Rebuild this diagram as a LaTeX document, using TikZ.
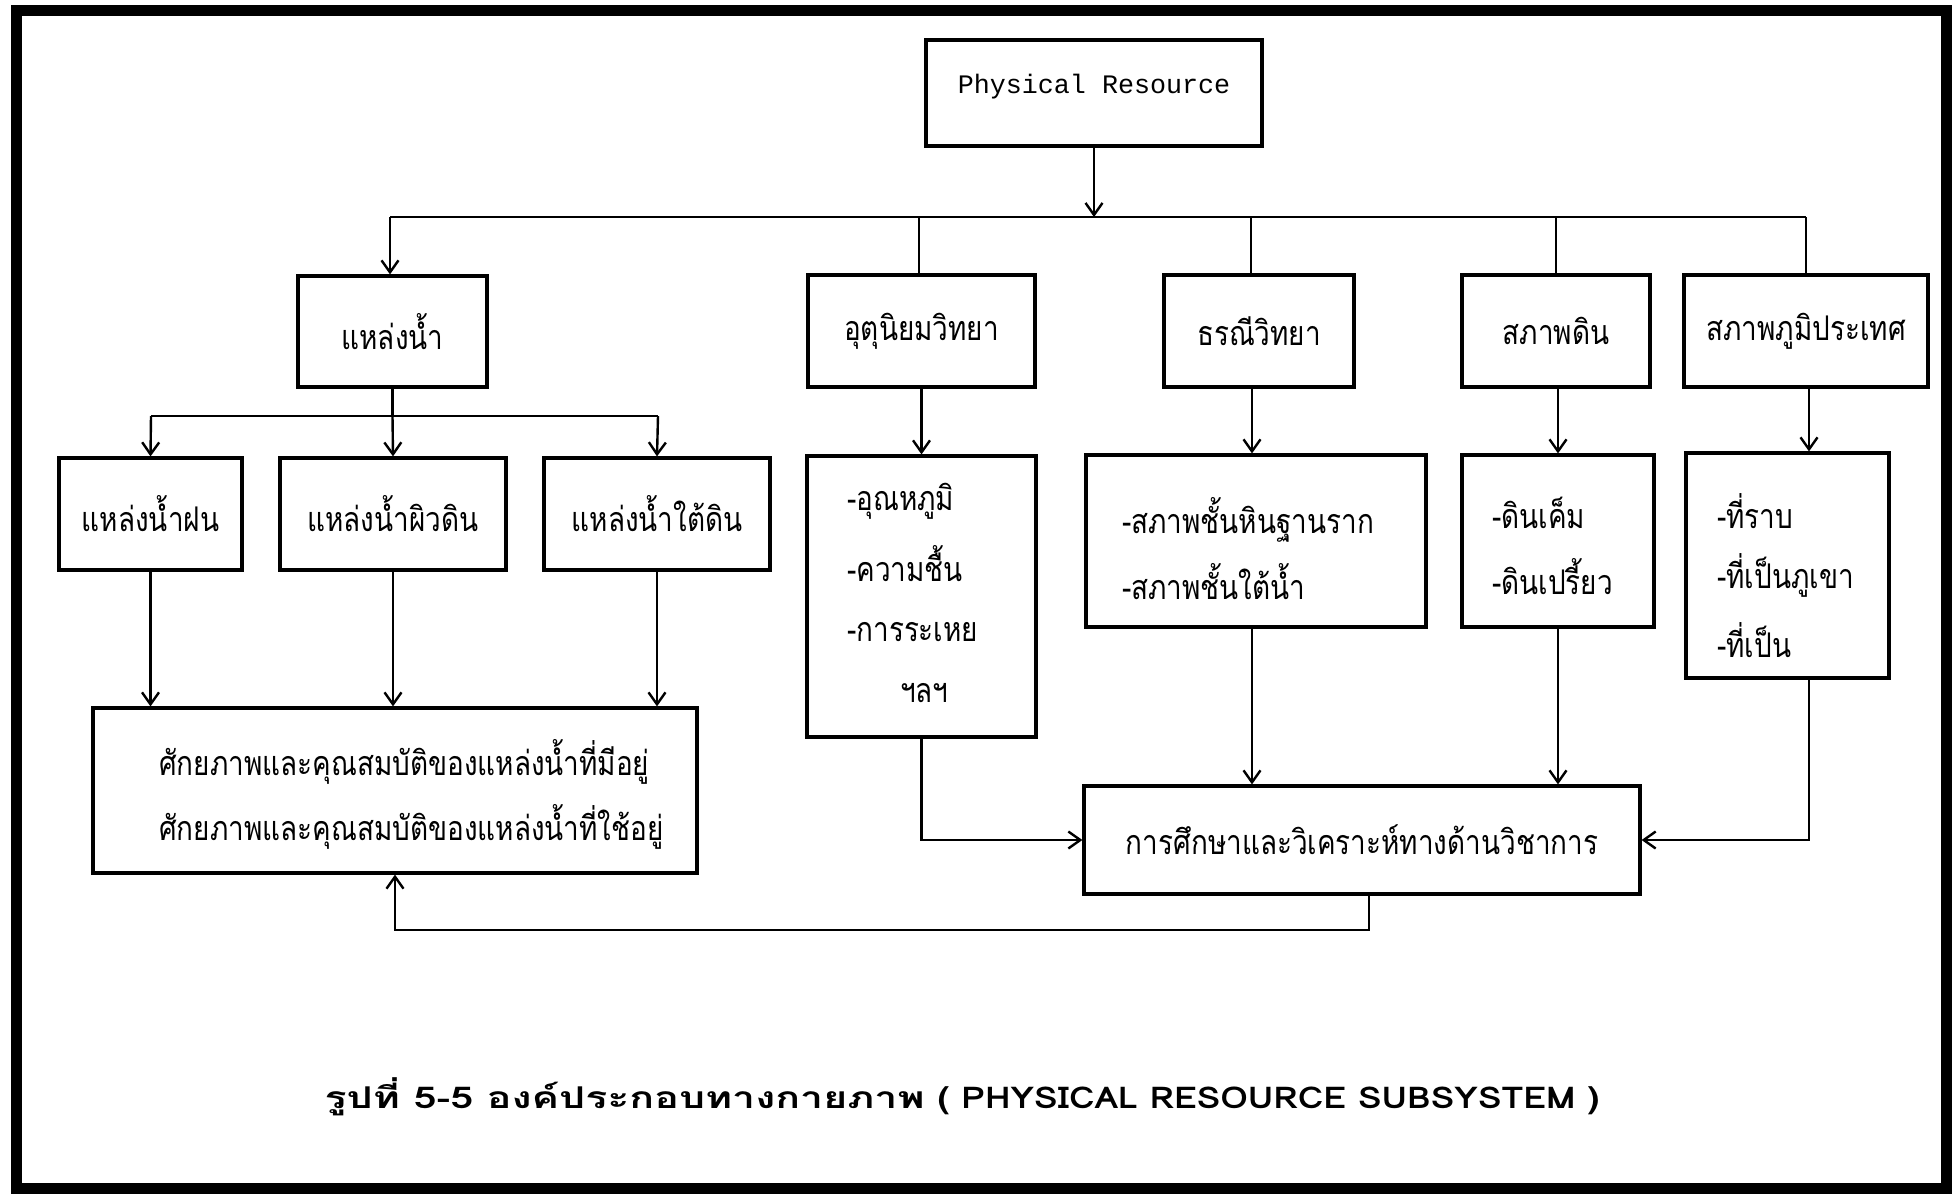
\documentclass[tikz,border=0pt]{standalone}
\usepackage{fontspec}
\setmainfont{Liberation Serif}
\newfontfamily\thai[Script=Thai,FakeStretch=0.82]{Loma}
\newfontfamily\capth[Script=Thai,FakeStretch=1.37]{Loma}
\newfontfamily\capla[FakeStretch=1.18]{Loma}
\newfontfamily\monofnt{Liberation Mono}
\usetikzlibrary{arrows.meta}
\begin{document}
\begin{tikzpicture}[x=1pt,y=-1pt,
  box/.style={draw, line width=3.2pt, inner sep=0pt},
  conn/.style={line width=2.4pt},
  arr/.style={conn, -{Straight Barb[length=12pt,width=17pt,line width=2.4pt]}},
  lbl/.style={font=\thai\fontsize{34}{36}\selectfont, inner sep=0pt},
]
\useasboundingbox (0,0) rectangle (1956,1195);
\draw[line width=11pt] (16,10) rectangle (1946,1188);

% boxes
\node[box, minimum width=336, minimum height=106] (top) at (1094,93) {};
\node[inner sep=0pt, font=\monofnt\fontsize{26.7}{28}\selectfont] (toplbl) at (1094,87) {Physical Resource};

\node[box, lbl, minimum width=189, minimum height=111] (water) at (392.5,331.5) {แหล่งน้ำ};
\node[box, lbl, minimum width=227, minimum height=112] (met) at (921.5,331) {อุตุนิยมวิทยา};
\node[box, lbl, minimum width=190, minimum height=112] (geo) at (1259,331) {ธรณีวิทยา};
\node[box, lbl, minimum width=188, minimum height=112] (soil) at (1556,331) {สภาพดิน};
\node[box, lbl, minimum width=244, minimum height=112] (topo) at (1806,331) {สภาพภูมิประเทศ};

\node[box, lbl, minimum width=183, minimum height=112] (rain) at (150.5,514) {แหล่งน้ำฝน};
\node[box, lbl, minimum width=226, minimum height=112] (surf) at (393,514) {แหล่งน้ำผิวดิน};
\node[box, lbl, minimum width=226, minimum height=112] (ground) at (657,514) {แหล่งน้ำใต้ดิน};

\node[box, minimum width=604, minimum height=165] (pot) at (395,790.5) {};
\node[lbl, anchor=west] (pot1) at (159,762) {ศักยภาพและคุณสมบัติของแหล่งน้ำที่มีอยู่};
\node[lbl, anchor=west] (pot2) at (159,827) {ศักยภาพและคุณสมบัติของแหล่งน้ำที่ใช้อยู่};

\node[box, minimum width=229, minimum height=281] (metsub) at (921.5,596.5) {};
\node[lbl, anchor=west] (m1) at (847,501) {-อุณหภูมิ};
\node[lbl, anchor=west] (m2) at (847,564) {-ความชื้น};
\node[lbl, anchor=west] (m3) at (847,632) {-การระเหย};
\node[lbl, anchor=west] (m4) at (900,693) {ฯลฯ};

\node[box, minimum width=340, minimum height=172] (geosub) at (1256,541) {};
\node[lbl, anchor=west] (g1) at (1122,520) {-สภาพชั้นหินฐานราก};
\node[lbl, anchor=west] (g2) at (1122,582) {-สภาพชั้นใต้น้ำ};

\node[box, minimum width=192, minimum height=172] (soilsub) at (1558,541) {};
\node[lbl, anchor=west] (s1) at (1492,513) {-ดินเค็ม};
\node[lbl, anchor=west] (s2) at (1492,577) {-ดินเปรี้ยว};

\node[box, minimum width=203, minimum height=225] (toposub) at (1787.5,565.5) {};
\node[lbl, anchor=west] (t1) at (1717,511) {-ที่ราบ};
\node[lbl, anchor=west] (t2) at (1717,575) {-ที่เป็นภูเขา};
\node[lbl, anchor=west] (t3) at (1717,640) {-ที่เป็น};

\node[box, lbl, minimum width=556, minimum height=108] (ana) at (1362,840) {การศึกษาและวิเคราะห์ทางด้านวิชาการ};

\node[inner sep=0pt, font=\bfseries\fontsize{30}{32}\selectfont] (cap) at (962,1097)
  {{\capth\bfseries รูปที่ 5-5 องค์ประกอบทางกายภาพ}\hspace{13pt}{\capla\bfseries ( PHYSICAL RESOURCE SUBSYSTEM )}};

% main bus
\coordinate (busL) at (390,217);
\coordinate (busR) at (1806,217);
\coordinate (dMet) at (919,217);
\coordinate (dGeo) at (1251,217);
\coordinate (dSoil) at (1556,217);
\draw[conn] (busL) -- (busR);
\draw[arr] (top.south) -- (top.south |- busL);
\draw[arr] (busL) -- (busL |- water.north);
\draw[conn] (dMet) -- (dMet |- met.north);
\draw[conn] (dGeo) -- (dGeo |- geo.north);
\draw[conn] (dSoil) -- (dSoil |- soil.north);
\draw[conn] (busR) -- (topo.north);

% water branch
\coordinate (sbL) at (151,416);
\coordinate (sbR) at (658,416);
\draw[conn] (water.south) -- (water.south |- sbL);
\draw[conn] (sbL) -- (sbR);
\draw[arr] (sbL) -- (rain.north);
\draw[arr] (water.south |- sbL) -- (surf.north);
\draw[arr] (sbR) -- (ground.north);
\draw[arr] (rain.south) -- (rain.south |- pot.north);
\draw[arr] (surf.south) -- (surf.south |- pot.north);
\draw[arr] (ground.south) -- (ground.south |- pot.north);

% other branches
\draw[arr] (met.south) -- (metsub.north);
\draw[arr] (metsub.south) |- (ana.west);
\draw[arr] ([xshift=-7pt]geo.south) -- ([xshift=-7pt]geo.south |- geosub.north);
\draw[arr] ([xshift=-7pt]geo.south |- geosub.south) -- ([xshift=-7pt]geo.south |- ana.north);
\draw[arr] ([xshift=2pt]soil.south) -- ([xshift=2pt]soil.south |- soilsub.north);
\draw[arr] ([xshift=2pt]soil.south |- soilsub.south) -- ([xshift=2pt]soil.south |- ana.north);
\draw[arr] ([xshift=3pt]topo.south) -- ([xshift=3pt]topo.south |- toposub.north);
\draw[arr] ([xshift=3pt]topo.south |- toposub.south) |- (ana.east);

% feedback
\coordinate (fb) at (1369,930);
\draw[arr] (ana.south -| fb) -- (fb) -| (pot.south);
\end{tikzpicture}
\end{document}
